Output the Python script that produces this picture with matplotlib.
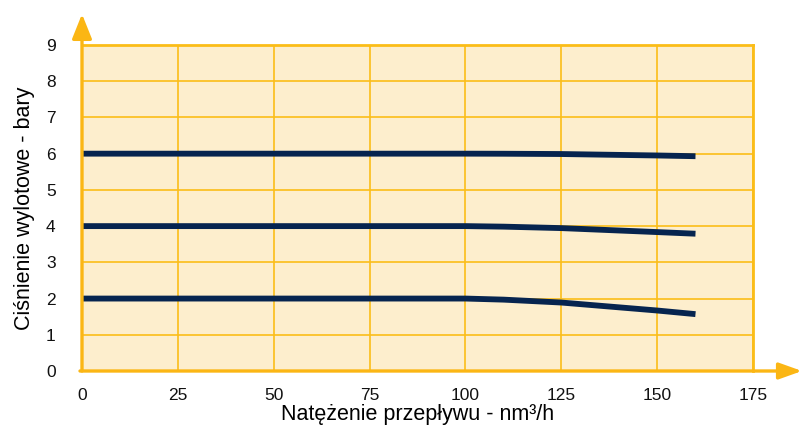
import numpy as np
import matplotlib.pyplot as plt

plt.rcParams['font.family'] = ['Liberation Sans', 'DejaVu Sans']

# przeplyw nm3/h i cisnienie wylotowe (bary) dla trzech nastaw
przeplyw = [0, 25, 50, 75, 100, 110, 125, 150, 160]
cisn6 = [6, 6, 6, 6, 6, 5.998, 5.99, 5.95, 5.93]
cisn4 = [4, 4, 4, 4, 4, 3.985, 3.945, 3.835, 3.79]
cisn2 = [2, 2, 2, 2, 2, 1.97, 1.89, 1.67, 1.57]

xticks = [0, 25, 50, 75, 100, 125, 150, 175]
yticks = list(range(0, 10))

tlo = '#fdeecd'
siatka = '#fbbd18'
strzalka = '#fbb614'
linia = '#06244f'

fig = plt.figure(figsize=(8.02, 4.29), dpi=100)
ax = fig.add_axes([82/802, 1-371/429, 671/802, 326/429])
ax.set_facecolor(tlo)

for c in [cisn6, cisn4, cisn2]:
    ax.plot(przeplyw, c, color=linia, lw=4.2, solid_capstyle='butt', zorder=3)

ax.set_xlim(0, 175)
ax.set_ylim(0, 9)
ax.set_xticks(xticks)
ax.set_yticks(yticks)
ax.grid(True, color=siatka, lw=1.2, zorder=1)
ax.set_axisbelow(True)
ax.tick_params(length=0, labelsize=12.5, colors='#111111')
ax.tick_params(axis='x', pad=12)
ax.tick_params(axis='y', pad=19)

for s in ['top', 'right']:
    ax.spines[s].set_color(siatka)
    ax.spines[s].set_linewidth(2)
for s in ['left', 'bottom']:
    ax.spines[s].set_visible(False)

# osie ze strzalkami
ax.annotate('', xy=(0, 1.095), xytext=(0, 0), xycoords='axes fraction',
            arrowprops=dict(arrowstyle='-|>,head_length=1.5,head_width=0.6',
                            color=strzalka, lw=2.4, shrinkA=0, shrinkB=0),
            annotation_clip=False)
ax.annotate('', xy=(1.073, 0), xytext=(-0.003, 0), xycoords='axes fraction',
            arrowprops=dict(arrowstyle='-|>,head_length=1.4,head_width=0.5',
                            color=strzalka, lw=2.4, shrinkA=0, shrinkB=0),
            annotation_clip=False)

ax.set_xlabel('Natężenie przepływu - nm³/h', fontsize=15.5, labelpad=1)
ax.set_ylabel('Ciśnienie wylotowe - bary', fontsize=15.5, labelpad=8)

fig.savefig('out.png', dpi=100)
